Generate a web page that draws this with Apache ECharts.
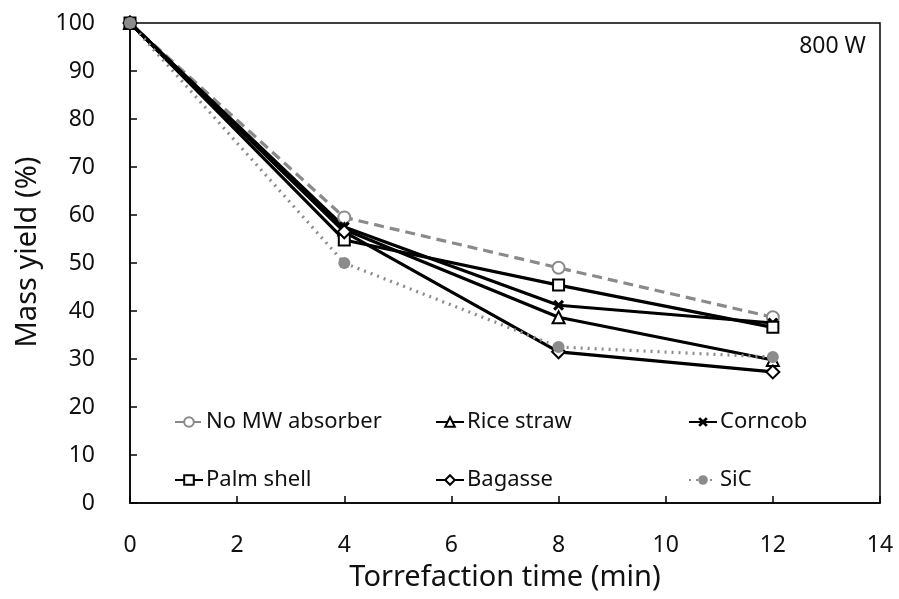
<!DOCTYPE html>
<html>
<head>
<meta charset="utf-8">
<script src="https://cdn.jsdelivr.net/npm/echarts@6/dist/echarts.min.js"></script>
<style>html,body{margin:0;padding:0;background:#fff}#c{width:899px;height:599px}</style>
</head>
<body>
<div id="c"></div>
<script>
const times = [0, 4, 8, 12];
const noMW = [100, 59.5, 49.0, 38.7];
const riceStraw = [100, 57.0, 38.7, 29.8];
const corncob = [100, 57.5, 41.2, 37.5];
const palmShell = [100, 54.8, 45.4, 36.6];
const bagasse = [100, 56.5, 31.5, 27.3];
const sic = [100, 50.0, 32.5, 30.4];
const names = ['No MW absorber', 'Rice straw', 'Corncob', 'Palm shell', 'Bagasse', 'SiC'];

const FONT = 'Noto Sans';
const xPath = 'path://M2,0 L5,3 L8,0 L10,2 L7,5 L10,8 L8,10 L5,7 L2,10 L0,8 L3,5 L0,2 Z';
const pairs = v => times.map((t, i) => [t, v[i]]);

function mk(name, vals, color, lineType, symbol, size, filled) {
  return {
    name, type: 'line', data: pairs(vals),
    symbol, symbolSize: size,
    lineStyle: { color, width: 3.2, type: lineType },
    itemStyle: filled ? { color, borderColor: color, borderWidth: 0 } : { color, borderColor: color, borderWidth: 2.2 },
    emphasis: { disabled: true },
    z: 2
  };
}

const series = [
  mk(names[0], noMW, '#8a8a8a', [10, 6], 'emptyCircle', 12, false),
  mk(names[1], riceStraw, '#000', 'solid', 'emptyTriangle', 12, false),
  mk(names[2], corncob, '#000', 'solid', xPath, 11, true),
  mk(names[3], palmShell, '#000', 'solid', 'emptyRect', 11, false),
  mk(names[4], bagasse, '#000', 'solid', 'emptyDiamond', 13, false),
  mk(names[5], sic, '#8c8c8c', [2, 5], 'circle', 12, true)
];

const legPos = [[174, 411], [435, 411], [688, 411], [174, 469], [435, 469], [688, 469]];
const legends = names.map((n, i) => ({
  data: [n], left: legPos[i][0], top: legPos[i][1],
  itemWidth: 28, itemHeight: 12, itemGap: 4,
  textStyle: { fontFamily: FONT, fontSize: 22, color: '#111', padding: [0, 0, 0, -2] },
  padding: 0, selectedMode: false
}));

const chart = echarts.init(document.getElementById('c'));
chart.setOption({
  animation: false,
  backgroundColor: '#fff',
  grid: { left: 130, right: 19, top: 23, bottom: 96, show: true, borderColor: '#000', borderWidth: 1.5, backgroundColor: 'transparent' },
  legend: legends,
  xAxis: {
    type: 'value', min: 0, max: 14, interval: 2,
    name: 'Torrefaction time (min)', nameLocation: 'middle', nameGap: 60,
    nameTextStyle: { fontFamily: FONT, fontSize: 29, color: '#111' },
    axisLine: { lineStyle: { color: '#000', width: 1.5 } },
    axisTick: { inside: true, length: 7, lineStyle: { color: '#000', width: 1.5 } },
    axisLabel: { fontFamily: FONT, fontSize: 23, color: '#111', margin: 31 },
    splitLine: { show: false }
  },
  yAxis: {
    type: 'value', min: 0, max: 100, interval: 10,
    axisLine: { lineStyle: { color: '#000', width: 1.5 } },
    axisTick: { inside: true, length: 7, lineStyle: { color: '#000', width: 1.5 } },
    axisLabel: { fontFamily: FONT, fontSize: 23, color: '#111', margin: 35 },
    splitLine: { show: false }
  },
  graphic: [{
    type: 'text', right: 33, top: 35,
    style: { text: '800 W', fontFamily: FONT, fontSize: 23, fill: '#111' }
  }, {
    type: 'text', x: 28, y: 252, rotation: Math.PI / 2,
    style: { text: 'Mass yield (%)', fontFamily: FONT, fontSize: 29, fill: '#111', align: 'center', verticalAlign: 'middle' }
  }],
  series
});
</script>
</body>
</html>
